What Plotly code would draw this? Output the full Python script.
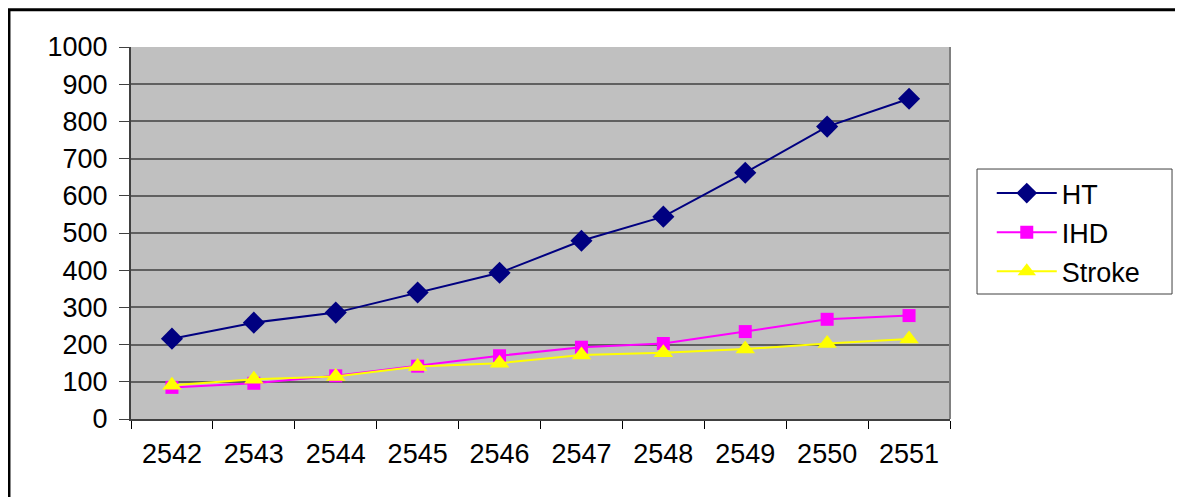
import plotly.graph_objects as go

years = ["2542", "2543", "2544", "2545", "2546", "2547", "2548", "2549", "2550", "2551"]
ht = [216, 259, 286, 340, 393, 479, 544, 662, 786, 861]
ihd = [85, 96, 116, 142, 170, 193, 203, 235, 268, 278]
stroke = [91, 107, 114, 141, 150, 172, 178, 188, 203, 215]
y_ticks = [0, 100, 200, 300, 400, 500, 600, 700, 800, 900, 1000]

fig = go.Figure()
fig.add_trace(go.Scatter(x=years, y=ht, name="HT", mode="lines+markers", legendgroup="a",
                         line=dict(color="#000080", width=2),
                         marker=dict(symbol="diamond", size=17, color="#000080")))
fig.add_trace(go.Scatter(x=years, y=ihd, name="IHD", mode="lines+markers", legendgroup="b",
                         line=dict(color="#FF00FF", width=2),
                         marker=dict(symbol="square", size=13, color="#FF00FF")))
fig.add_trace(go.Scatter(x=years, y=stroke, name="Stroke", mode="lines+markers", legendgroup="c",
                         line=dict(color="#FFFF00", width=2),
                         marker=dict(symbol="triangle-up", size=17, color="#FFFF00")))

font_family = "Liberation Sans, Arial, sans-serif"
W, H = 1175, 489  # page body has an 8px margin

fig.update_layout(
    width=W, height=H,
    margin=dict(l=123, r=W - 942, t=39, b=H - 411),
    paper_bgcolor="white",
    plot_bgcolor="#C0C0C0",
    font=dict(family=font_family, size=27, color="black"),
    showlegend=True,
    legend=dict(x=1.051, y=0.672, xanchor="left", yanchor="top",
                borderwidth=0, bgcolor="rgba(0,0,0,0)",
                font=dict(size=27, family=font_family, color="black"),
                itemwidth=60, tracegroupgap=1),
    xaxis=dict(type="category", range=[-0.5, 9.5], showgrid=False,
               ticks="outside", tickson="boundaries", ticklen=8, tickwidth=1,
               tickcolor="black", showline=True, linecolor="#404040", linewidth=2,
               ticklabelstandoff=10,
               tickfont=dict(size=27, family=font_family, color="black"),
               zeroline=False),
    yaxis=dict(range=[0, 1000], tickvals=y_ticks, showgrid=True,
               gridcolor="#606060", gridwidth=2,
               ticks="outside", ticklen=10, tickwidth=1, tickcolor="#404040",
               showline=True, linecolor="#404040", linewidth=2,
               mirror=False, zeroline=False, ticklabelstandoff=6,
               tickfont=dict(size=27, family=font_family, color="black")),
)

# right border of the plot area
fig.add_shape(type="line", xref="paper", yref="paper", x0=1, x1=1, y0=0, y1=1,
              line=dict(color="#808080", width=2))
# legend frame
fig.add_shape(type="rect", xref="paper", yref="paper",
              x0=1.033, x1=1.2711, y0=0.336, y1=0.672,
              line=dict(color="#404040", width=1), fillcolor="white", layer="below")
# outer chart border
fig.add_shape(type="rect", xref="paper", yref="paper",
              x0=-0.149, x1=1.2795, y0=-0.25, y1=1.1,
              line=dict(color="black", width=3), layer="above")

fig.write_html("out.html")
